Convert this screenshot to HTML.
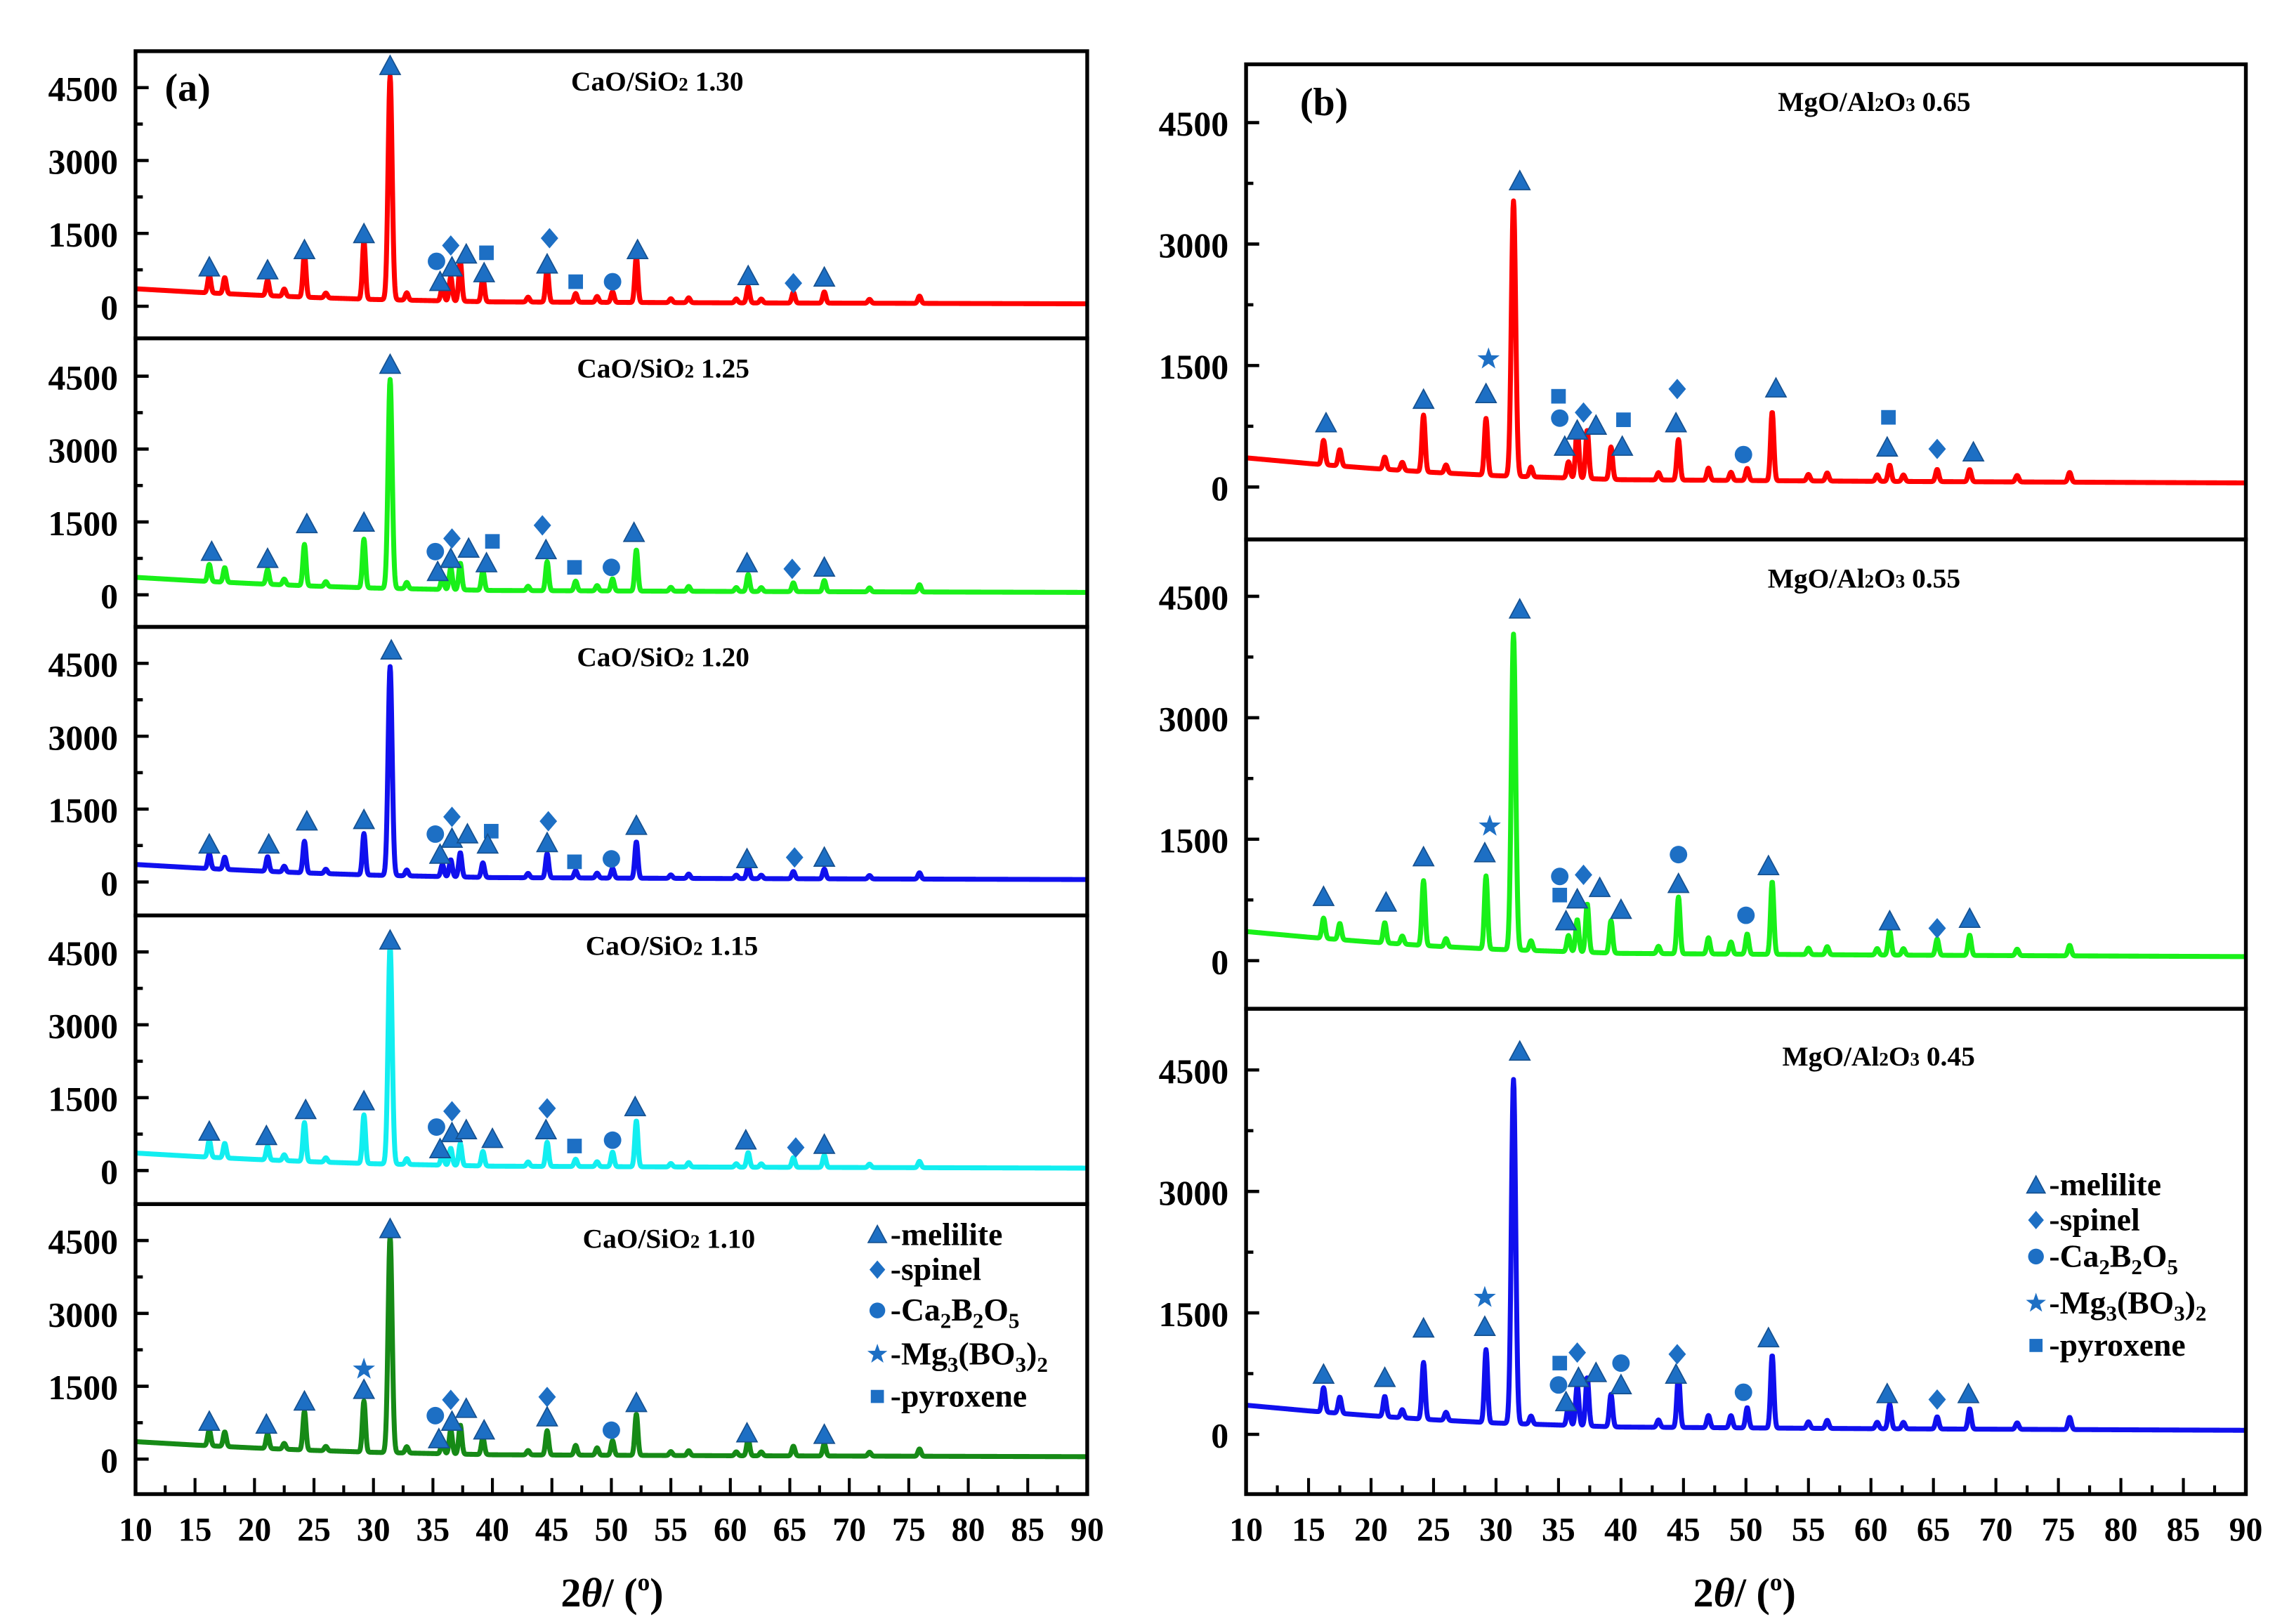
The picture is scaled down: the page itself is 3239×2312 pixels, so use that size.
<!DOCTYPE html>
<html><head><meta charset="utf-8"><style>
html,body{margin:0;padding:0;background:#fff;}
svg{display:block;}
text{font-family:"Liberation Serif",serif;font-weight:bold;fill:#000;}
</style></head>
<body>
<svg id="chart" width="3239" height="2312" viewBox="0 0 1561 1114" xmlns="http://www.w3.org/2000/svg"></svg>
<script>
// ---- data ----
const peakPos   = [16.2,17.5,21.1,22.5,24.2,26.0,29.2,31.4,32.8,35.8,36.5,37.3,39.2,43.0,44.6,47.0,48.8,50.1,52.1,55.0,56.5,60.5,61.5,62.6,65.3,67.9,71.7,75.9];
const redA      = [370,330,320,150,900,100,1200,4600,150,300,500,820,500,100,700,180,120,220,950,80,100,80,330,80,220,230,80,150];
const greenA    = [350,300,300,120,850,100,1000,4300,130,250,450,550,400,90,600,200,110,250,850,80,100,80,350,80,180,230,80,150];
const blueA     = [300,250,300,120,650,90,850,4300,120,250,350,500,300,90,500,150,100,200,750,70,90,70,250,70,150,200,70,130];
const cyanA     = [350,300,280,120,800,90,1000,4500,120,250,350,450,300,90,500,150,100,300,950,70,90,70,300,70,200,250,70,130];
const dgreenA   = [330,300,300,120,800,90,1050,4450,130,250,500,600,350,90,500,200,150,300,850,80,100,80,350,80,200,250,80,150];
const redB      = [300,200,150,100,700,100,700,3400,120,200,650,600,400,90,500,150,100,150,850,80,100,80,200,80,150,150,80,120];
const greenB    = [250,200,250,100,800,100,900,3900,120,200,400,600,400,90,700,200,150,250,900,80,100,80,300,80,200,250,80,130];
const blueB     = [300,200,250,100,700,100,900,4250,100,250,500,600,400,90,650,150,150,250,900,80,100,80,300,80,150,250,80,150];
const baseX = [10,15,20,25,30,40,60,90];
const baseY = [360,290,230,180,140,90,70,50];
const yTicks = [0,1500,3000,4500];
const xTicks = [10,15,20,25,30,35,40,45,50,55,60,65,70,75,80,85,90];
// markers: [type, 2theta, intensity]
const mkA1 = [["t",16.2,805],["t",21.1,745],["t",24.2,1160],["t",29.2,1490],["t",31.4,4950],["c",35.3,925],["t",35.6,505],["d",36.5,1250],["t",36.6,805],["t",37.8,1070],["s",39.5,1100],["t",39.3,685],["d",44.8,1400],["t",44.6,865],["s",47,505],["c",50.1,505],["t",52.2,1160],["t",61.5,625],["d",65.3,475],["t",67.9,595]];
const mkA2 = [["t",16.4,890],["t",21.1,745],["t",24.4,1460],["t",29.2,1490],["t",31.4,4740],["c",35.2,890],["t",35.4,475],["d",36.6,1160],["t",36.5,745],["t",38,955],["s",40,1100],["t",39.5,655],["d",44.2,1430],["t",44.5,925],["s",46.9,565],["c",50,565],["t",51.9,1280],["t",61.4,655],["d",65.2,535],["t",67.9,565]];
const mkA3 = [["t",16.2,775],["t",21.2,775],["t",24.4,1250],["t",29.2,1280],["t",31.5,4770],["c",35.2,985],["t",35.6,565],["d",36.6,1340],["t",36.6,895],["t",37.9,985],["s",39.9,1045],["t",39.6,775],["d",44.7,1250],["t",44.6,805],["s",46.9,415],["c",50,475],["t",52.1,1160],["t",61.4,475],["d",65.4,505],["t",67.9,505]];
const mkA4 = [["t",16.2,805],["t",21,715],["t",24.3,1250],["t",29.2,1430],["t",31.4,4740],["c",35.3,895],["t",35.6,445],["d",36.6,1220],["t",36.6,775],["t",37.8,835],["t",40,655],["d",44.6,1280],["t",44.5,835],["s",46.9,505],["c",50.1,625],["t",52,1310],["t",61.3,625],["d",65.5,475],["t",67.9,535]];
const mkA5 = [["t",16.2,775],["t",21,715],["t",24.2,1190],["*",29.2,1850],["t",29.2,1430],["t",31.4,4740],["c",35.2,895],["t",35.5,415],["d",36.5,1220],["t",36.6,775],["t",37.8,1040],["t",39.3,595],["d",44.6,1280],["t",44.6,865],["c",50,595],["t",52.1,1160],["t",61.4,535],["t",67.9,505]];
const mkB1 = [["t",16.4,790],["t",24.2,1080],["t",29.2,1150],["*",29.4,1580],["t",31.9,3780],["s",35,1120],["c",35.1,850],["t",35.5,500],["t",36.5,700],["d",37,920],["t",38,760],["s",40.2,830],["t",40.1,500],["d",44.5,1210],["t",44.4,790],["c",49.8,400],["t",52.4,1220],["s",61.4,860],["t",61.3,490],["d",65.3,470],["t",68.2,430]];
const mkB2 = [["t",16.2,790],["t",21.2,720],["t",24.2,1280],["t",29.1,1330],["*",29.5,1660],["t",31.9,4340],["c",35.1,1040],["s",35.1,810],["t",35.6,490],["t",36.5,760],["d",37,1060],["t",38.3,900],["t",40,630],["c",44.6,1310],["t",44.6,950],["c",50,560],["t",51.8,1170],["t",61.5,490],["d",65.3,400],["t",67.9,520]];
const mkB3 = [["t",16.2,740],["t",21.1,700],["t",24.2,1310],["*",29.1,1690],["t",29.1,1330],["t",31.9,4730],["s",35.1,880],["c",35,610],["t",35.6,400],["d",36.5,1010],["t",36.6,700],["t",38,760],["c",40,880],["t",40,610],["d",44.5,990],["t",44.4,740],["c",49.8,520],["t",51.8,1190],["t",61.3,500],["d",65.3,430],["t",67.8,500]];
const legendItems = [["t","-melilite"],["d","-spinel"],["c","-Ca2B2O5"],["*","-Mg3(BO3)2"],["s","-pyroxene"]];

// ---- drawing ----
const NS="http://www.w3.org/2000/svg";
const svg=document.getElementById('chart');
function el(tag,attrs,parent){const e=document.createElementNS(NS,tag);for(const k in attrs)e.setAttribute(k,attrs[k]);(parent||svg).appendChild(e);return e;}
function baseAt(x){for(let i=0;i<baseX.length-1;i++){if(x<=baseX[i+1]){const t=(x-baseX[i])/(baseX[i+1]-baseX[i]);return baseY[i]+t*(baseY[i+1]-baseY[i]);}}return baseY[baseY.length-1];}
function intensity(x,h){let y=baseAt(x);for(let i=0;i<peakPos.length;i++){const s=(peakPos[i]===31.4)?0.17:0.13;const d=x-peakPos[i];y+=h[i]*Math.exp(-d*d/(2*s*s));}return y;}
const BLUE="#1d6fc4";
function marker(g,type,cx,cy,sc){
  sc=sc||1;let m;
  if(type==="t"){m=el('polygon',{points:`${cx},${cy-7*sc} ${cx-7*sc},${cy+6*sc} ${cx+7*sc},${cy+6*sc}`,fill:BLUE,stroke:"#15508f","stroke-width":0.8},g);}
  else if(type==="d"){m=el('polygon',{points:`${cx},${cy-7*sc} ${cx+6*sc},${cy} ${cx},${cy+7*sc} ${cx-6*sc},${cy}`,fill:BLUE},g);}
  else if(type==="c"){m=el('ellipse',{cx:cx,cy:cy,rx:6*sc,ry:6*sc,fill:BLUE},g);}
  else if(type==="s"){m=el('rect',{x:cx-5*sc,y:cy-5*sc,width:10*sc,height:10*sc,fill:BLUE},g);}
  else {const pts=[];for(let k=0;k<10;k++){const r=k%2?3.2*sc:8*sc;const a=-Math.PI/2+k*Math.PI/5;pts.push((cx+r*Math.cos(a)).toFixed(2)+","+(cy+r*Math.sin(a)).toFixed(2));}m=el('polygon',{points:pts.join(" "),fill:BLUE},g);}
  return m;
}
function panel(cfg){
  const g=el('g',{});
  
  
  const xs=v=>cfg.x0+(v-10)*(cfg.x1-cfg.x0)/80;
  const ys=v=>cfg.zero-v*cfg.k;
  for(let v=0;v<=4500;v+=750){
    const major=yTicks.indexOf(v)>=0;
    el('line',{x1:cfg.x0,x2:cfg.x0+(major?9:5),y1:ys(v),y2:ys(v),stroke:"#000","stroke-width":2.2},g);
  }
  yTicks.forEach(v=>{const t=el('text',{x:cfg.x0-12,y:ys(v)+9,"font-size":24,"text-anchor":"end"},g);t.textContent=String(v);
    
    });
  let d="";for(let x=10;x<=90.001;x+=0.04){d+=(d?"L":"M")+xs(x).toFixed(2)+","+ys(intensity(x,cfg.h)).toFixed(2);}
  const p=el('path',{d:d,fill:"none",stroke:cfg.color,"stroke-width":3.4,"stroke-linejoin":"round"},g);
  
  
  cfg.mk.forEach(m=>{const e=marker(g,m[0],xs(m[1]),ys(m[2]));
    
    });
  const lab=el('text',{x:cfg.lx,y:cfg.ly,"font-size":19,"text-anchor":"middle"},g);
  
  
  cfg.label.forEach(part=>{const ts=el('tspan',{"font-size":part[1]?13:19},lab);ts.textContent=part[0];});
  el('rect',{x:cfg.x0,y:cfg.top,width:cfg.x1-cfg.x0,height:cfg.bot-cfg.top,fill:"none",stroke:"#000","stroke-width":2.6},g);
}
function xAxis(x0,x1,bot,cx,name){
  const g=el('g',{});
  
  
  const xs=v=>x0+(v-10)*(x1-x0)/80;
  for(let v=10;v<=90;v+=2.5){const major=(v%5===0);el('line',{x1:xs(v),x2:xs(v),y1:bot,y2:bot-(major?11:6),stroke:"#000","stroke-width":2},g);}
  xTicks.forEach(v=>{const t=el('text',{x:xs(v),y:1057,"font-size":23,"text-anchor":"middle"},g);t.textContent=String(v);
    
    });
  const tt=el('text',{x:cx,y:1102,"font-size":28,"text-anchor":"middle"},g);
  
  
  tt.innerHTML='2<tspan font-style="italic">θ</tspan>/ (<tspan font-size="17" dy="-11">o</tspan><tspan dy="11">)</tspan>';
}
function legend(x,ys,name){
  const g=el('g',{});
  
  
  legendItems.forEach((it,i)=>{marker(g,it[0],x,ys[i]-7,0.9);
    const t=el('text',{x:x+9,y:ys[i],"font-size":22},g);
    
    
    const s=it[1];
    if(s==="-Ca2B2O5"){t.innerHTML='-Ca<tspan font-size="15" dy="5">2</tspan><tspan dy="-5">B</tspan><tspan font-size="15" dy="5">2</tspan><tspan dy="-5">O</tspan><tspan font-size="15" dy="5">5</tspan>';}
    else if(s==="-Mg3(BO3)2"){t.innerHTML='-Mg<tspan font-size="15" dy="5">3</tspan><tspan dy="-5">(BO</tspan><tspan font-size="15" dy="5">3</tspan><tspan dy="-5">)</tspan><tspan font-size="15" dy="5">2</tspan>';}
    else t.textContent=s;});
}
const A=[[35,232,210],[232,430,408],[430,628,605],[628,826,803],[826,1025,1001]];
const AH=[redA,greenA,blueA,cyanA,dgreenA],AC=["#ff0000","#19f019","#1010ee","#12eef0","#168a16"],AM=[mkA1,mkA2,mkA3,mkA4,mkA5];
const ALab=["1.30","1.25","1.20","1.15","1.10"],ALy=[62,259,457,655,856],ALx=[451,455,455,461,459];
A.forEach((p,i)=>panel({name:'panel-a-'+(i+1),x0:93,x1:746,top:p[0],bot:p[1],zero:p[2],k:150/4500,h:AH[i],color:AC[i],mk:AM[i],
  lx:ALx[i],ly:ALy[i],label:[["CaO/SiO",0],["2",1],[" "+ALab[i],0]]}));
const B=[[44,370,334],[370,692,659],[692,1025,984]];
const BH=[redB,greenB,blueB],BC=["#ff0000","#19f019","#1010ee"],BM=[mkB1,mkB2,mkB3];
const BLab=["0.65","0.55","0.45"],BLy=[76,403,731],BLx=[1286,1279,1289];
B.forEach((p,i)=>panel({name:'panel-b-'+(i+1),x0:855,x1:1541,top:p[0],bot:p[1],zero:p[2],k:250/4500,h:BH[i],color:BC[i],mk:BM[i],
  lx:BLx[i],ly:BLy[i],label:[["MgO/Al",0],["2",1],["O",0],["3",1],[" "+BLab[i],0]]}));
xAxis(93,746,1025,420,'x-axis-a');
xAxis(855,1541,1025,1197,'x-axis-b');
legend(602,[854,878,906,936,965],'legend-a');
legend(1397,[820,844,869,901,930],'legend-b');
const ta=el('text',{x:113,y:69,"font-size":27});ta.textContent="(a)";


const tb=el('text',{x:892,y:79,"font-size":27});tb.textContent="(b)";


</script>
</body></html>
